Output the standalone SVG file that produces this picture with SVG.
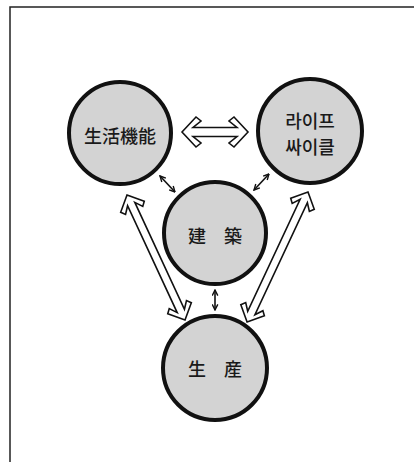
<svg xmlns="http://www.w3.org/2000/svg" width="414" height="462" viewBox="0 0 414 462">
<style>
.node circle{fill:#d3d3d3;stroke:#111;stroke-width:4}
.label{font-family:"Noto Sans CJK KR","Noto Sans CJK JP",sans-serif;font-size:18px;font-weight:500;fill:#1a1a1a;text-anchor:middle;dominant-baseline:central}
.big{fill:#fff;stroke:#111;stroke-width:1.6;stroke-linejoin:miter}
.small{stroke:#111;stroke-width:1.6;fill:none;marker-start:url(#ah);marker-end:url(#ah)}
.frame{stroke:#222;stroke-width:1.5;fill:none}
</style>
<defs>
<marker id="ah" viewBox="0 0 10 10" refX="9" refY="5" markerWidth="7" markerHeight="7" orient="auto-start-reverse" markerUnits="userSpaceOnUse">
<path d="M1,1 L9,5 L1,9" fill="none" stroke="#111" stroke-width="2"/>
</marker>
</defs>
<rect width="414" height="462" fill="#fff"/>
<path class="frame" d="M10,462 V7 H414"/>
<g id="connectors">
<polygon class="big" transform="translate(182,132)" points="0,0 14,-15 19,-11 11,-4.5 55,-4.5 47,-11 52,-15 66,0 52,15 47,11 55,4.5 11,4.5 19,11 14,15"/>
<polygon class="big" transform="translate(127,195) rotate(65.1)" points="0,0 13,-13 17,-9.5 10,-4 127.8,-4 120.8,-9.5 124.8,-13 137.8,0 124.8,13 120.8,9.5 127.8,4 10,4 17,9.5 13,13"/>
<polygon class="big" transform="translate(308,192) rotate(115.1)" points="0,0 13,-13 17,-9.5 10,-4 133.6,-4 126.6,-9.5 130.6,-13 143.6,0 130.6,13 126.6,9.5 133.6,4 10,4 17,9.5 13,13"/>
<line class="small" x1="160" y1="176" x2="175" y2="192"/>
<line class="small" x1="269" y1="174" x2="254" y2="190"/>
<line class="small" x1="215" y1="290" x2="215" y2="310"/>
</g>
<g id="n1" class="node"><circle cx="120" cy="133" r="51"/><text class="label" x="120" y="135">生活機能</text></g>
<g id="n2" class="node"><circle cx="310" cy="131" r="52"/><text class="label" x="310" y="120">라이프</text><text class="label" x="310" y="146">싸이클</text></g>
<g id="n3" class="node"><circle cx="215" cy="233" r="51"/><text class="label" x="215" y="235" xml:space="preserve">建　築</text></g>
<g id="n4" class="node"><circle cx="215" cy="368" r="52"/><text class="label" x="215" y="368" xml:space="preserve">生　産</text></g>
</svg>
